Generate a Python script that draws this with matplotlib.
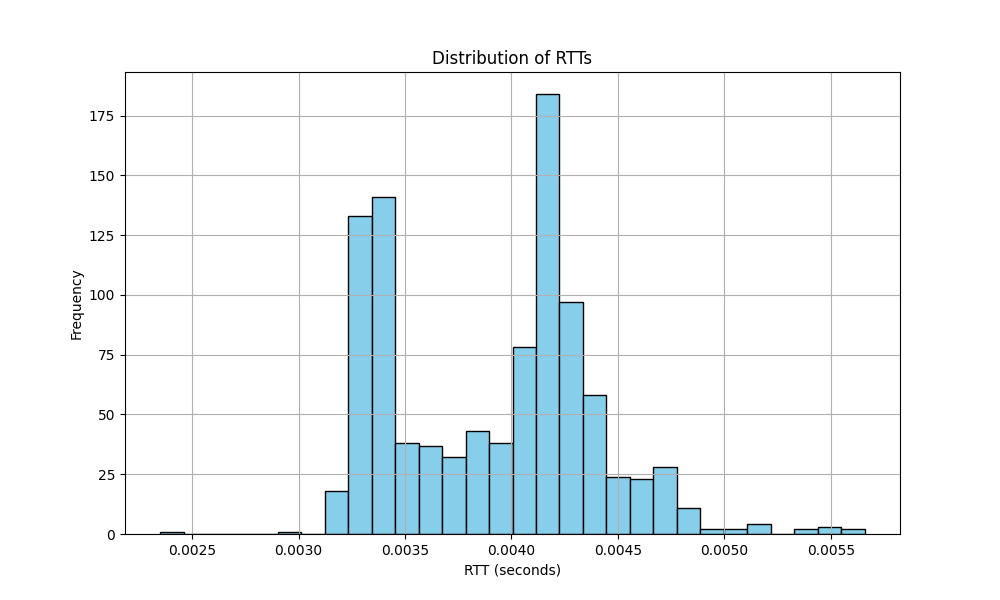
import numpy as np
import matplotlib.pyplot as plt

# histogram of RTTs, 30 bins, counts
rtt_min = 0.00235
rtt_max = 0.00566
counts = [1, 0, 0, 0, 0, 1, 0, 18, 133, 141,
          38, 37, 32, 43, 38, 78, 184, 97, 58, 24,
          23, 28, 11, 2, 2, 4, 0, 2, 3, 2]

edges = np.linspace(rtt_min, rtt_max, len(counts) + 1)
centers = (edges[:-1] + edges[1:]) / 2

plt.figure(figsize=(10, 6))
plt.hist(centers, bins=edges, weights=counts, color='skyblue', edgecolor='black')
plt.title('Distribution of RTTs')
plt.xlabel('RTT (seconds)')
plt.ylabel('Frequency')
plt.grid(True)
plt.savefig('out.png')
